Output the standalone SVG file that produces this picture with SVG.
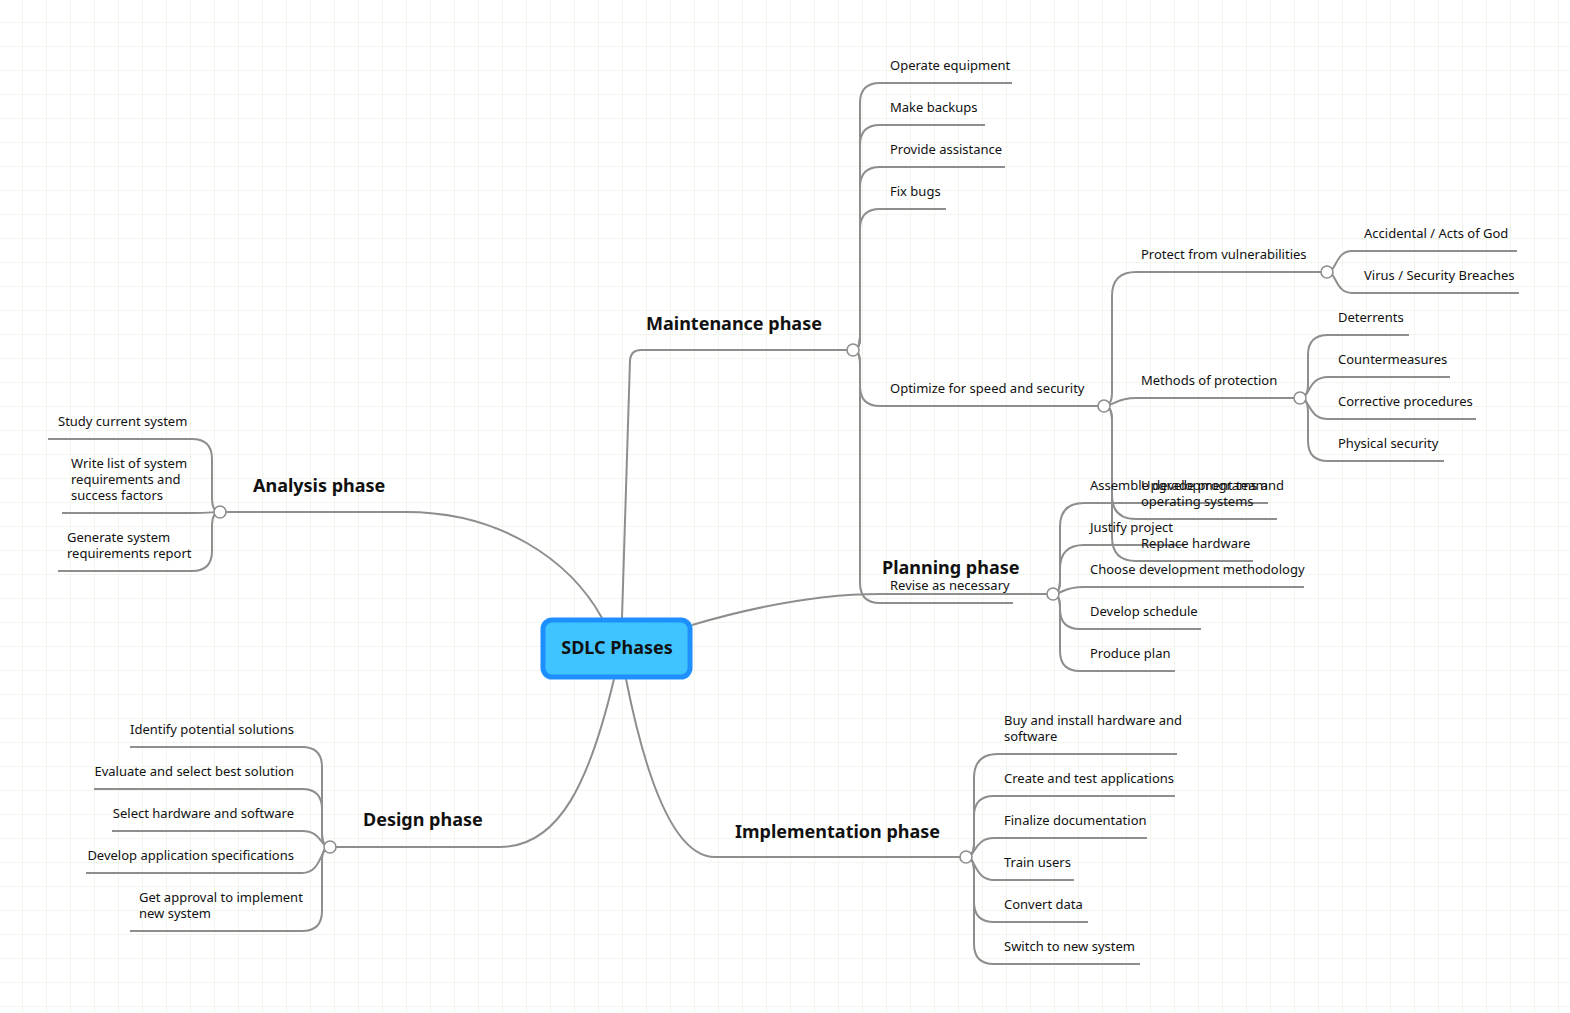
<svg xmlns="http://www.w3.org/2000/svg" width="1570" height="1013" viewBox="0 0 1570 1013">
<defs>
<pattern id="grid" width="24" height="24" patternUnits="userSpaceOnUse" x="-2" y="-2">
<path d="M24 0H0V24" fill="none" stroke="#e6efdc" stroke-width="1"/>
</pattern>
<style>
.c{fill:none;stroke:#8e8e8e;stroke-width:2}
.h{fill:#fff;stroke:#8e8e8e;stroke-width:1.6}
text{font-family:"Noto Sans","Liberation Sans",sans-serif;fill:#111}
.t{font-size:13px}
.p{font-size:18px;font-weight:bold}
</style>
</defs>
<rect width="1570" height="1013" fill="#fff"/>
<rect width="1570" height="1013" fill="url(#grid)"/>
<g id="connectors">
<path class="c" d="M622,618 L630,360 Q631,350 641,350 H853"/>
<path class="c" d="M602,618 C570,560 500,512 406,512 H220"/>
<path class="c" d="M614,679 C590,780 560,847 500,847 H330"/>
<path class="c" d="M626,679 C650,800 680,857 715,857 H966"/>
<path class="c" d="M692,625 C760,605 820,594 880,594 H1053"/>
<path class="c" d="M853,350 Q860,350 860,336 V103 Q860,83 880,83 H1012"/>
<path class="c" d="M853,350 Q860,350 860,336 V145 Q860,125 880,125 H985"/>
<path class="c" d="M853,350 Q860,350 860,336 V187 Q860,167 880,167 H1005"/>
<path class="c" d="M853,350 Q860,350 860,336 V229 Q860,209 880,209 H946"/>
<path class="c" d="M853,350 Q860,350 860,364 V386 Q860,406 880,406 H1104"/>
<path class="c" d="M853,350 Q860,350 860,364 V583 Q860,603 880,603 H1013"/>
<path class="c" d="M1104,406 Q1112,406 1112,392 V296 Q1112,272 1136,272 H1327"/>
<path class="c" d="M1104,406 C1115,406 1115,398 1136,398 H1300"/>
<path class="c" d="M1104,406 Q1112,406 1112,420 V495 Q1112,519 1136,519 H1277"/>
<path class="c" d="M1104,406 Q1112,406 1112,420 V537 Q1112,561 1136,561 H1253"/>
<path class="c" d="M1327,272 C1337,272 1335,251 1352,251 H1517"/>
<path class="c" d="M1327,272 C1337,272 1335,293 1352,293 H1519"/>
<path class="c" d="M1300,398 Q1308,398 1308,384 V355 Q1308,335 1328,335 H1409"/>
<path class="c" d="M1300,398 C1310,398 1308,377 1328,377 H1450"/>
<path class="c" d="M1300,398 C1310,398 1308,419 1328,419 H1476"/>
<path class="c" d="M1300,398 Q1308,398 1308,412 V441 Q1308,461 1328,461 H1444"/>
<path class="c" d="M1053,594 Q1060,594 1060,580 V527 Q1060,503 1084,503 H1268"/>
<path class="c" d="M1053,594 Q1060,594 1060,580 V569 Q1060,545 1084,545 H1185"/>
<path class="c" d="M1053,594 C1063,594 1062,587 1084,587 H1304"/>
<path class="c" d="M1053,594 Q1060,594 1060,608 V609 Q1060,629 1080,629 H1201"/>
<path class="c" d="M1053,594 Q1060,594 1060,608 V651 Q1060,671 1080,671 H1175"/>
<path class="c" d="M966,857 Q974,857 974,843 V778 Q974,754 998,754 H1177"/>
<path class="c" d="M966,857 Q974,857 974,843 V816 Q974,796 994,796 H1175"/>
<path class="c" d="M966,857 C976,857 974,838 994,838 H1147"/>
<path class="c" d="M966,857 C976,857 974,880 994,880 H1074"/>
<path class="c" d="M966,857 Q974,857 974,871 V902 Q974,922 994,922 H1088"/>
<path class="c" d="M966,857 Q974,857 974,871 V944 Q974,964 994,964 H1140"/>
<path class="c" d="M220,512 Q212,512 212,498 V459 Q212,439 192,439 H48"/>
<path class="c" d="M220,512 C210,512 212,513 192,513 H62"/>
<path class="c" d="M220,512 Q212,512 212,526 V551 Q212,571 192,571 H58"/>
<path class="c" d="M330,847 Q322,847 322,833 V767 Q322,747 302,747 H130"/>
<path class="c" d="M330,847 Q322,847 322,833 V809 Q322,789 302,789 H94"/>
<path class="c" d="M330,847 C320,847 322,831 302,831 H112"/>
<path class="c" d="M330,847 C320,847 322,873 302,873 H86"/>
<path class="c" d="M330,847 Q322,847 322,861 V911 Q322,931 302,931 H130"/>
</g>
<g id="hubs">
<circle class="h" cx="853" cy="350" r="6"/>
<circle class="h" cx="1104" cy="406" r="6"/>
<circle class="h" cx="1327" cy="272" r="6"/>
<circle class="h" cx="1300" cy="398" r="6"/>
<circle class="h" cx="1053" cy="594" r="6"/>
<circle class="h" cx="966" cy="857" r="6"/>
<circle class="h" cx="220" cy="512" r="6"/>
<circle class="h" cx="330" cy="847" r="6"/>
</g>
<g id="root">
<rect x="543" y="620" width="147" height="57" rx="9" fill="#40c4ff" stroke="#1e8fff" stroke-width="5"/>
<text x="617" y="654" text-anchor="middle" style="font-size:18px;font-weight:bold">SDLC Phases</text>
</g>
<g id="maintenance"><text class="p" x="646" y="330">Maintenance phase</text>
<text class="t" x="890" y="70">Operate equipment</text>
<text class="t" x="890" y="112">Make backups</text>
<text class="t" x="890" y="154">Provide assistance</text>
<text class="t" x="890" y="196">Fix bugs</text>
<text class="t" x="890" y="393">Optimize for speed and security</text>
<text class="t" x="890" y="590">Revise as necessary</text>
</g>
<g id="optimize">
<text class="t" x="1141" y="259">Protect from vulnerabilities</text>
<text class="t" x="1141" y="385">Methods of protection</text>
<text class="t" x="1141" y="490">Upgrade programs and</text>
<text class="t" x="1141" y="506">operating systems</text>
<text class="t" x="1141" y="548">Replace hardware</text>
<text class="t" x="1364" y="238">Accidental / Acts of God</text>
<text class="t" x="1364" y="280">Virus / Security Breaches</text>
<text class="t" x="1338" y="322">Deterrents</text>
<text class="t" x="1338" y="364">Countermeasures</text>
<text class="t" x="1338" y="406">Corrective procedures</text>
<text class="t" x="1338" y="448">Physical security</text>
</g>
<g id="planning"><text class="p" x="882" y="574">Planning phase</text>
<text class="t" x="1090" y="490">Assemble development team</text>
<text class="t" x="1090" y="532">Justify project</text>
<text class="t" x="1090" y="574">Choose development methodology</text>
<text class="t" x="1090" y="616">Develop schedule</text>
<text class="t" x="1090" y="658">Produce plan</text>
</g>
<g id="implementation"><text class="p" x="735" y="838">Implementation phase</text>
<text class="t" x="1004" y="725">Buy and install hardware and</text>
<text class="t" x="1004" y="741">software</text>
<text class="t" x="1004" y="783">Create and test applications</text>
<text class="t" x="1004" y="825">Finalize documentation</text>
<text class="t" x="1004" y="867">Train users</text>
<text class="t" x="1004" y="909">Convert data</text>
<text class="t" x="1004" y="951">Switch to new system</text>
</g>
<g id="analysis"><text class="p" x="253" y="492">Analysis phase</text>
<text class="t" x="58" y="426">Study current system</text>
<text class="t" x="71" y="468">Write list of system</text>
<text class="t" x="71" y="484">requirements and</text>
<text class="t" x="71" y="500">success factors</text>
<text class="t" x="67" y="542">Generate system</text>
<text class="t" x="67" y="558">requirements report</text>
</g>
<g id="design"><text class="p" x="363" y="826">Design phase</text>
<text class="t" x="294" y="734" text-anchor="end">Identify potential solutions</text>
<text class="t" x="294" y="776" text-anchor="end">Evaluate and select best solution</text>
<text class="t" x="294" y="818" text-anchor="end">Select hardware and software</text>
<text class="t" x="294" y="860" text-anchor="end">Develop application specifications</text>
<text class="t" x="139" y="902">Get approval to implement</text>
<text class="t" x="139" y="918">new system</text>
</g>
</svg>
